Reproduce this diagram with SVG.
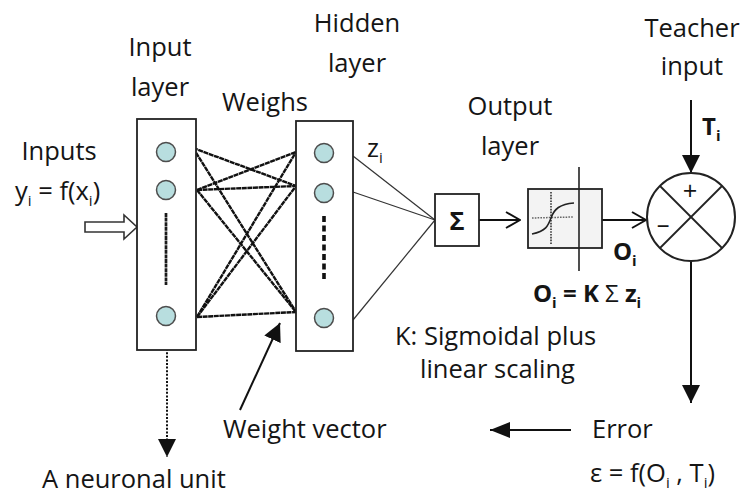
<svg xmlns="http://www.w3.org/2000/svg" width="740" height="494" viewBox="0 0 740 494">
  <defs>
    <style>
      text { font-family: "Open Sans", "Liberation Sans", sans-serif; font-size: 25.5px; fill: #151515; }
      .c { text-anchor: middle; }
      .b { font-weight: bold; font-size: 24px; }
      .sub { font-size: 15px; }
      .box { fill: #ffffff; stroke: #222222; stroke-width: 1.8; }
      .unit { fill: #b8dedf; stroke: #4d4d4d; stroke-width: 1.5; }
      .w { stroke: #111111; stroke-width: 2.4; stroke-dasharray: 5 0.6; fill: none; }
      .thin { stroke: #333333; stroke-width: 1.2; fill: none; }
      .ln { stroke: #111111; stroke-width: 2; fill: none; }
    </style>
    <marker id="head" viewBox="0 0 18 18" refX="18" refY="9" markerWidth="18" markerHeight="18" markerUnits="userSpaceOnUse" orient="auto">
      <path d="M0,0 L18,9 L0,18 Z" fill="#111111"/>
    </marker>
    <marker id="headS" viewBox="0 0 20 16" refX="20" refY="8" markerWidth="20" markerHeight="16" markerUnits="userSpaceOnUse" orient="auto">
      <path d="M0,0 L20,8 L0,16 Z" fill="#111111"/>
    </marker>
    <marker id="open" viewBox="0 0 16 18" refX="15" refY="9" markerWidth="16" markerHeight="18" markerUnits="userSpaceOnUse" orient="auto">
      <path d="M1,1 L15,9 L1,17" fill="none" stroke="#111111" stroke-width="2"/>
    </marker>
  </defs>

  <!-- connectors -->
  <g id="connectors">
    <!-- input to hidden weights -->
    <line class="w" x1="193" y1="148" x2="296" y2="186"/>
    <line class="w" x1="193" y1="148" x2="296" y2="312"/>
    <line class="w" x1="197" y1="190" x2="296" y2="152"/>
    <line class="w" x1="197" y1="190" x2="296" y2="186"/>
    <line class="w" x1="197" y1="190" x2="296" y2="312"/>
    <line class="w" x1="197" y1="317" x2="296" y2="152"/>
    <line class="w" x1="197" y1="317" x2="296" y2="186"/>
    <line class="w" x1="197" y1="317" x2="296" y2="312"/>
    <!-- hidden to summation -->
    <line class="thin" x1="353" y1="156" x2="435" y2="220"/>
    <line class="thin" x1="353" y1="192" x2="435" y2="220"/>
    <line class="thin" x1="353" y1="320" x2="435" y2="220"/>
    <!-- forward path -->
    <line class="ln" x1="479" y1="220" x2="520" y2="220" marker-end="url(#open)"/>
    <line class="ln" x1="602" y1="220" x2="646" y2="220" stroke-width="2.4" marker-end="url(#open)"/>
    <!-- teacher input -->
    <line class="ln" x1="691" y1="100" x2="691" y2="173" marker-end="url(#head)"/>
    <!-- error output -->
    <line class="ln" x1="691" y1="261" x2="691" y2="403" marker-end="url(#head)"/>
    <!-- error fed back -->
    <line class="ln" x1="571" y1="430" x2="490" y2="430" stroke-width="2.6" marker-end="url(#headS)"/>
    <!-- weight vector pointer -->
    <line class="ln" x1="240" y1="410" x2="280" y2="323" stroke-width="3.4" marker-end="url(#head)"/>
    <!-- neuronal unit pointer -->
    <line class="ln" x1="167" y1="327" x2="167" y2="457" stroke-dasharray="2 1.6" marker-end="url(#head)"/>
    <!-- hollow input arrow -->
    <polygon points="85,222 124,222 124,215 137,227 124,239 124,232 85,232" fill="#ffffff" stroke="#333333" stroke-width="1.6"/>
  </g>

  <!-- input layer -->
  <g id="input-layer">
    <rect class="box" x="137" y="119" width="59" height="231"/>
    <circle class="unit" cx="166" cy="152" r="9.5"/>
    <circle class="unit" cx="166" cy="190" r="9.5"/>
    <line x1="166" y1="213" x2="166" y2="285" stroke="#1a1a1a" stroke-width="2.7" stroke-dasharray="4 0.6"/>
    <circle class="unit" cx="166" cy="316" r="9.5"/>
  </g>

  <!-- hidden layer -->
  <g id="hidden-layer">
    <rect class="box" x="296" y="121" width="57" height="230"/>
    <circle class="unit" cx="324" cy="153" r="9.5"/>
    <circle class="unit" cx="324" cy="193" r="9.5"/>
    <line x1="324" y1="216" x2="324" y2="279" stroke="#111111" stroke-width="3.6" stroke-dasharray="6 3.5"/>
    <circle class="unit" cx="324" cy="318" r="9.5"/>
  </g>

  <!-- summation -->
  <g id="sum">
    <rect class="box" x="435" y="194" width="44" height="52"/>
    <text class="c" x="457" y="230" font-size="28" font-weight="bold">Σ</text>
  </g>

  <!-- sigmoid output unit -->
  <g id="sigmoid">
    <rect x="528" y="189" width="74" height="59" fill="#f3f3f3" stroke="#222222" stroke-width="1.8"/>
    <line x1="532" y1="218" x2="573" y2="217" stroke="#666666" stroke-width="1.5" stroke-dasharray="1.6 1.2"/>
    <line x1="551" y1="192" x2="551" y2="245" stroke="#333333" stroke-width="1.6" stroke-dasharray="1.6 1.2"/>
    <path d="M532,234 C546,231 548,226 551,218 C554,209 560,204 574,203" fill="none" stroke="#222222" stroke-width="1.6"/>
    <line x1="579" y1="167" x2="579" y2="271" stroke="#222222" stroke-width="1.6"/>
  </g>

  <!-- comparator -->
  <g id="comparator">
    <circle cx="691" cy="217" r="44" fill="#ffffff" stroke="#222222" stroke-width="2"/>
    <line x1="660" y1="186" x2="722" y2="248" stroke="#222222" stroke-width="1.8"/>
    <line x1="722" y1="186" x2="660" y2="248" stroke="#222222" stroke-width="1.8"/>
    <text class="c" x="690" y="200" font-size="20">+</text>
    <text class="c" x="663" y="233" font-size="20">–</text>
  </g>

  <!-- labels -->
  <g id="labels">
    <text class="c" x="160" y="56">Input</text>
    <text class="c" x="160" y="96">layer</text>
    <text class="c" x="265" y="111">Weighs</text>
    <text class="c" x="357" y="32">Hidden</text>
    <text class="c" x="357" y="72">layer</text>
    <text class="c" x="510" y="115">Output</text>
    <text class="c" x="510" y="155">layer</text>
    <text class="c" x="692" y="37">Teacher</text>
    <text class="c" x="692" y="75">input</text>
    <text class="c" x="59" y="160">Inputs</text>
    <text x="15" y="200">y<tspan class="sub" dy="6">i</tspan><tspan dy="-6"> = f(x</tspan><tspan class="sub" dy="6">i</tspan><tspan dy="-6">)</tspan></text>
    <text x="367" y="157">z<tspan class="sub" dy="6">i</tspan></text>
    <text class="b" x="702" y="135">T<tspan class="sub" dy="6">i</tspan></text>
    <text class="b" x="613" y="260">O<tspan class="sub" dy="6">i</tspan></text>
    <text class="b" x="533" y="302">O<tspan class="sub" dy="6">i</tspan><tspan dy="-6"> = K </tspan><tspan font-weight="normal">Σ</tspan><tspan> z</tspan><tspan class="sub" dy="6">i</tspan></text>
    <text x="395" y="345">K: Sigmoidal plus</text>
    <text x="420" y="378">linear scaling</text>
    <text x="223" y="438">Weight vector</text>
    <text x="592" y="438">Error</text>
    <text x="590" y="482">ε = f(O<tspan class="sub" dy="6">i</tspan><tspan dy="-6"> , T</tspan><tspan class="sub" dy="6">i</tspan><tspan dy="-6">)</tspan></text>
    <text x="42" y="488">A neuronal unit</text>
  </g>
</svg>
